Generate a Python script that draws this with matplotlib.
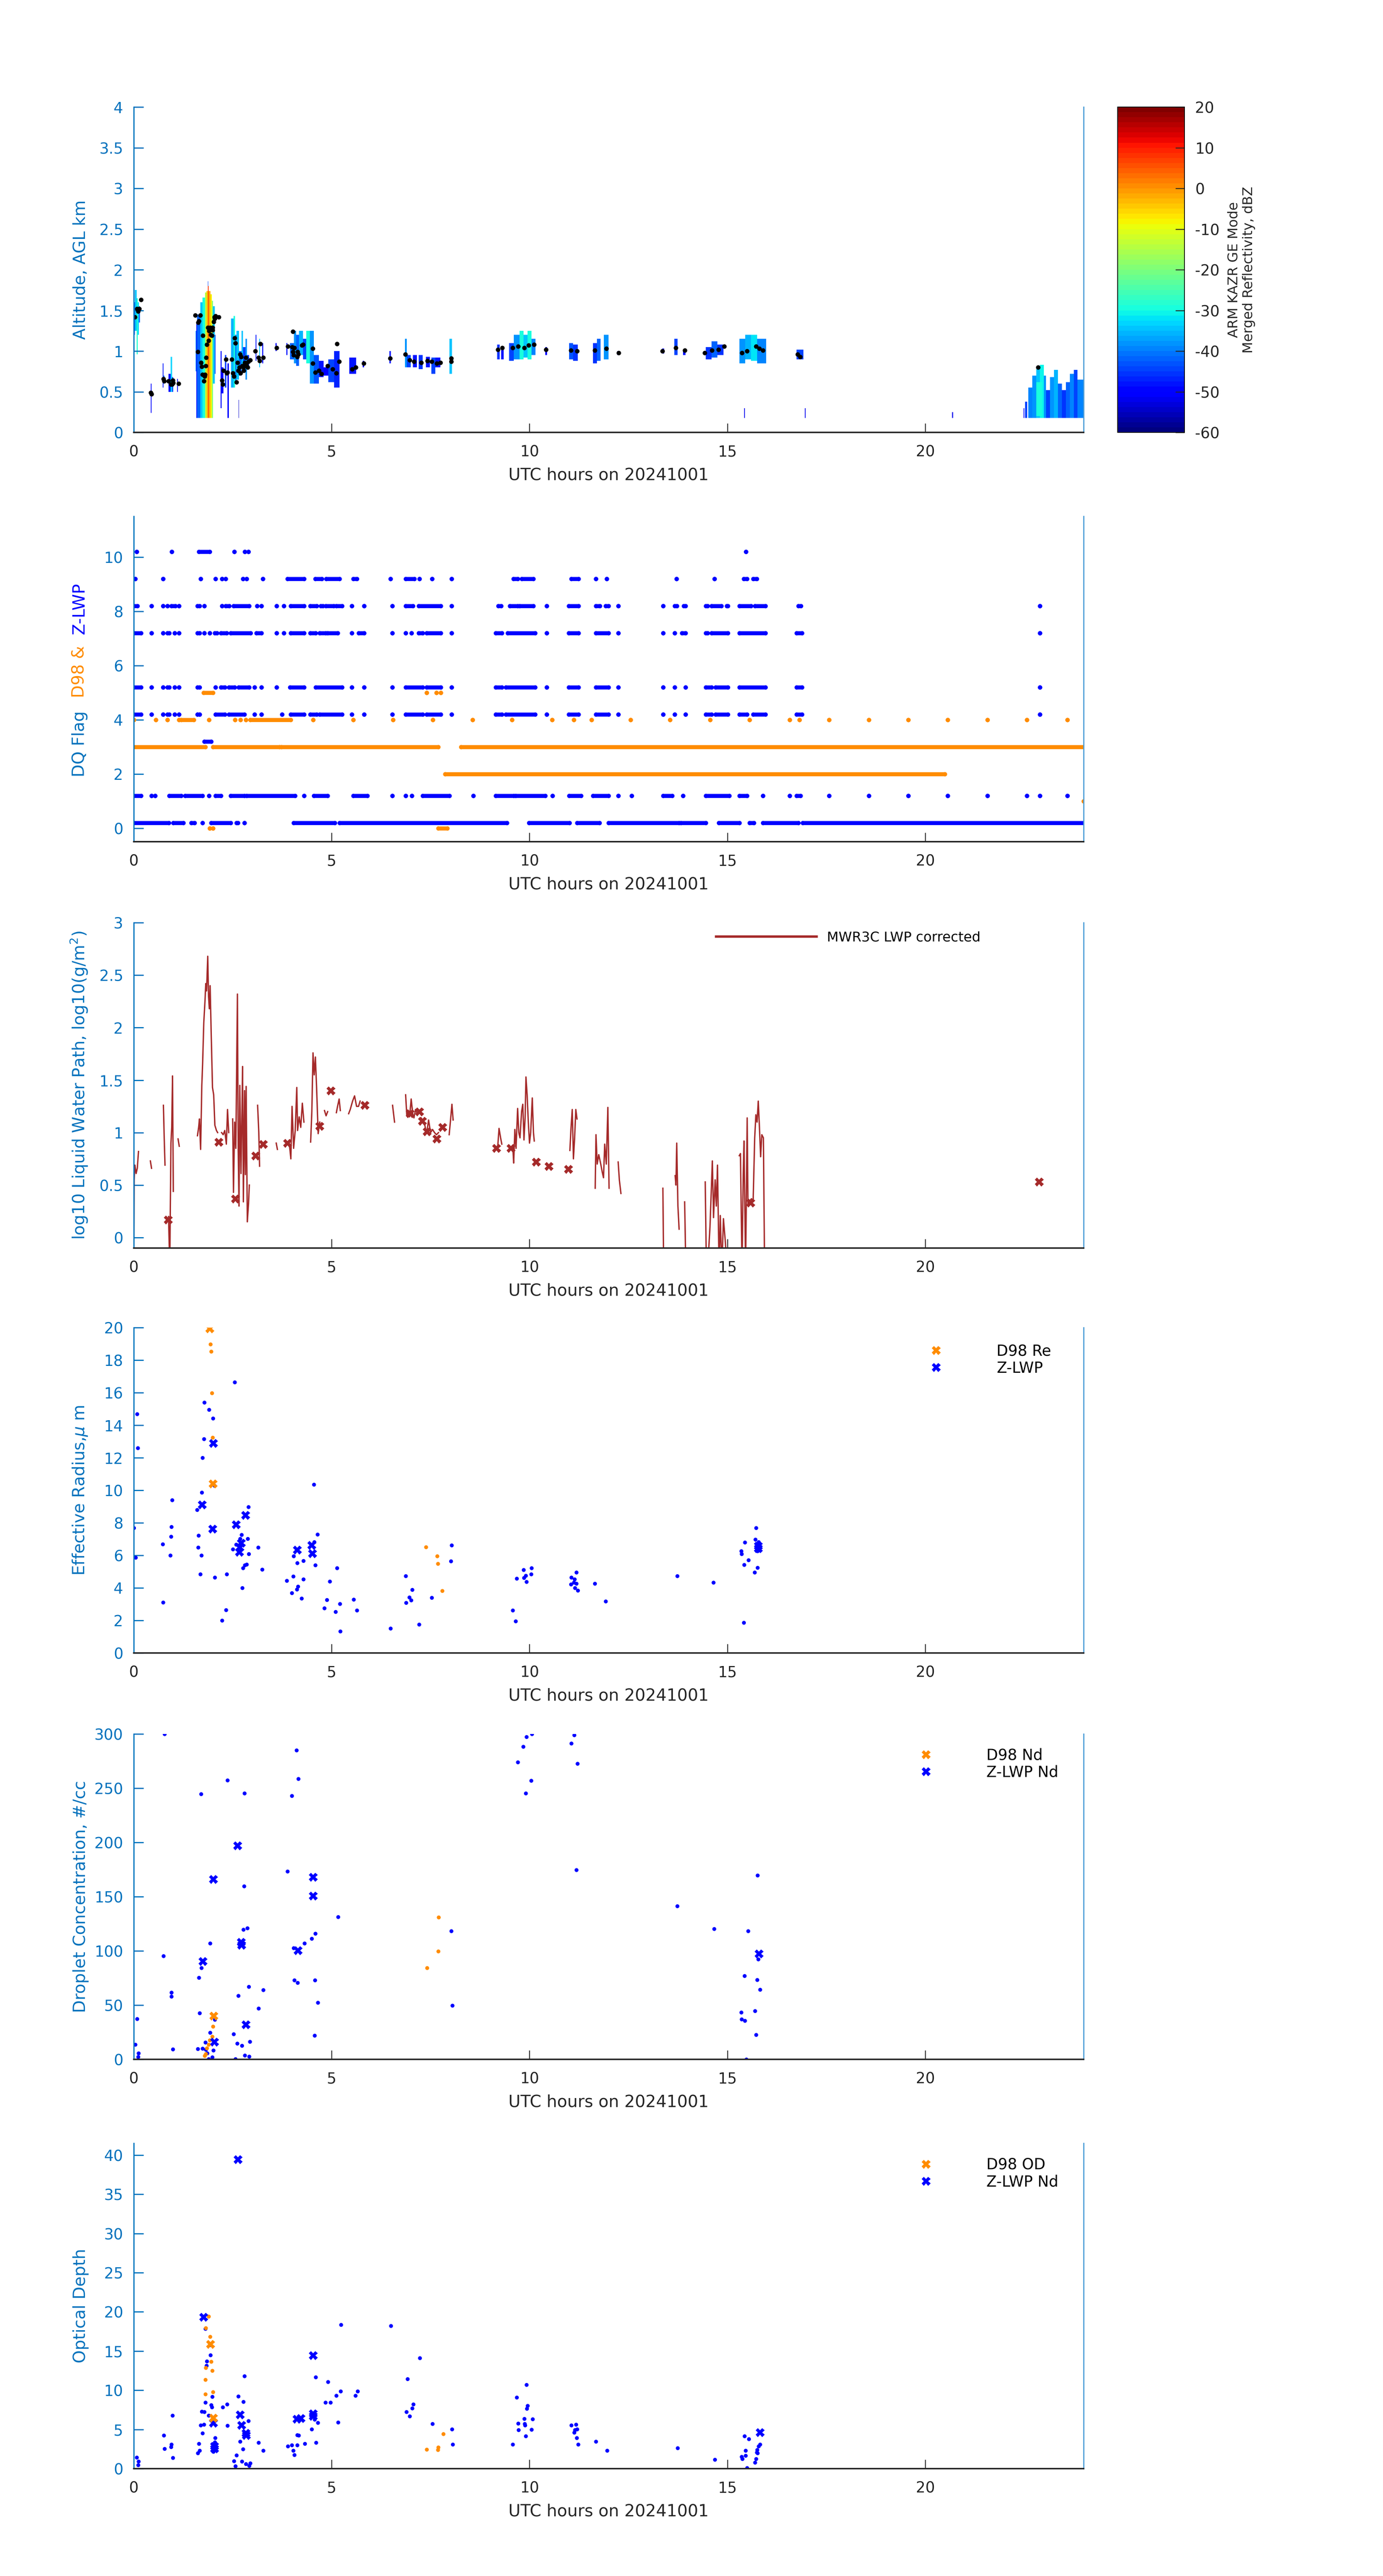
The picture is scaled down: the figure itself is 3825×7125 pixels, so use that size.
import matplotlib
matplotlib.use('Agg')
import matplotlib.pyplot as plt
import numpy as np
from matplotlib.lines import Line2D
from matplotlib.ticker import FuncFormatter
from matplotlib.colors import Normalize
from matplotlib.cm import ScalarMappable

plt.rcParams['font.family'] = ['DejaVu Sans']
plt.rcParams['axes.unicode_minus'] = False

nan = np.nan
MBLUE = '#0072BD'
LBLUE = '#4f9fd8'
ORANGE = '#FF8C00'
BLUE = '#0000FF'
BROWN = '#A52A2A'
DARK = '#262626'

# ---------------- panel 1: KAZR reflectivity (t0, t1, z_bottom, z_top, dBZ)
refl_boxes = [
    (0.00, 0.03, 1.20, 1.60, -45), (0.03, 0.07, 1.25, 1.75, -35), (0.07, 0.10, 0.96, 1.65, -28),
    (0.10, 0.13, 1.20, 1.60, -33), (0.13, 0.16, 1.35, 1.55, -42), (0.43, 0.45, 0.24, 0.60, -50),
    (0.73, 0.75, 0.55, 0.85, -48), (0.75, 0.78, 0.60, 0.70, -40), (0.88, 0.93, 0.50, 0.72, -48),
    (0.93, 0.97, 0.50, 0.93, -33), (0.97, 1.00, 0.50, 0.68, -45), (1.10, 1.12, 0.50, 0.66, -50),
    (1.56, 1.58, 0.75, 1.25, -40), (1.58, 1.60, 0.18, 1.35, -48), (1.60, 1.68, 0.18, 1.45, -42),
    (1.68, 1.74, 0.18, 1.60, -35), (1.74, 1.80, 0.18, 1.66, -30), (1.80, 1.84, 0.18, 1.72, -14),
    (1.84, 1.87, 0.18, 1.74, -4), (1.87, 1.89, 0.18, 1.80, 8), (1.87, 1.88, 1.80, 1.86, -45),
    (1.89, 1.94, 0.18, 1.74, -2), (1.94, 1.97, 0.18, 1.70, -8), (1.97, 2.00, 0.18, 1.62, -20),
    (2.00, 2.05, 0.60, 1.55, -35), (2.05, 2.07, 0.72, 1.20, -45),
    (2.19, 2.22, 0.30, 1.00, -48), (2.22, 2.27, 0.48, 0.80, -50), (2.30, 2.34, 0.55, 0.95, -45),
    (2.37, 2.40, 0.18, 0.85, -50), (2.46, 2.52, 0.55, 1.40, -36), (2.52, 2.56, 0.55, 1.43, -30),
    (2.56, 2.60, 0.60, 1.20, -40), (2.60, 2.66, 0.65, 1.25, -34), (2.66, 2.72, 0.70, 1.00, -42),
    (2.72, 2.76, 0.80, 1.25, -35), (2.76, 2.82, 0.78, 1.05, -45), (2.82, 2.86, 0.65, 1.15, -38),
    (2.86, 2.92, 0.80, 0.95, -45), (2.65, 2.66, 0.18, 0.40, -55), (3.08, 3.10, 0.88, 1.20, -48),
    (3.17, 3.19, 0.80, 1.15, -35), (3.24, 3.27, 0.85, 1.10, -48), (3.58, 3.61, 1.00, 1.10, -50),
    (3.86, 3.88, 0.95, 1.10, -48), (3.95, 4.05, 0.90, 1.10, -42), (4.05, 4.10, 0.85, 1.25, -38),
    (4.10, 4.18, 0.82, 1.20, -42), (4.18, 4.28, 0.95, 1.25, -36), (4.28, 4.36, 0.90, 1.15, -44),
    (4.36, 4.45, 0.85, 1.25, -30), (4.45, 4.55, 0.60, 1.25, -38), (4.55, 4.68, 0.60, 0.95, -43),
    (4.68, 4.80, 0.68, 0.88, -48), (4.80, 4.92, 0.70, 0.80, -50), (4.92, 5.06, 0.62, 0.90, -45),
    (5.06, 5.20, 0.55, 1.00, -47), (5.45, 5.62, 0.72, 0.92, -48), (5.78, 5.82, 0.80, 0.88, -50),
    (6.46, 6.50, 0.85, 1.00, -48), (6.85, 6.90, 0.80, 1.15, -38), (6.90, 7.00, 0.80, 0.95, -45),
    (7.05, 7.15, 0.80, 0.95, -48), (7.20, 7.30, 0.78, 0.95, -46), (7.38, 7.48, 0.80, 0.93, -48),
    (7.52, 7.62, 0.72, 0.92, -45), (7.62, 7.75, 0.80, 0.92, -48), (7.98, 8.04, 0.72, 1.15, -35),
    (9.18, 9.25, 0.90, 1.08, -46), (9.28, 9.35, 0.90, 1.05, -48), (9.48, 9.60, 0.88, 1.10, -45),
    (9.60, 9.75, 0.90, 1.20, -38), (9.75, 9.85, 0.90, 1.25, -30), (9.85, 9.95, 0.92, 1.20, -35),
    (9.95, 10.05, 0.90, 1.25, -30), (10.05, 10.15, 0.95, 1.15, -40), (10.40, 10.44, 0.95, 1.05, -50),
    (11.00, 11.10, 0.90, 1.10, -43), (11.10, 11.22, 0.88, 1.08, -46), (11.60, 11.70, 0.85, 1.10, -46),
    (11.70, 11.80, 0.88, 1.15, -42), (11.88, 12.00, 0.90, 1.20, -38), (12.22, 12.28, 0.95, 1.00, -50),
    (13.35, 13.40, 0.97, 1.03, -50), (13.66, 13.74, 0.95, 1.15, -45), (13.88, 13.94, 0.95, 1.02, -48),
    (14.45, 14.60, 0.90, 1.05, -46), (14.60, 14.75, 0.92, 1.12, -42), (14.75, 14.90, 0.95, 1.08, -46),
    (15.30, 15.45, 0.85, 1.15, -38), (15.45, 15.60, 0.90, 1.20, -36), (15.60, 15.75, 0.88, 1.20, -32),
    (15.75, 15.98, 0.85, 1.15, -40), (15.42, 15.44, 0.18, 0.30, -52), (16.75, 16.92, 0.90, 1.02, -45),
    (16.96, 16.98, 0.18, 0.30, -52), (20.68, 20.70, 0.18, 0.25, -52),
    (22.48, 22.50, 0.18, 0.30, -50), (22.52, 22.58, 0.18, 0.38, -45), (22.60, 22.70, 0.18, 0.55, -40),
    (22.70, 22.80, 0.18, 0.70, -38), (22.80, 22.90, 0.18, 0.78, -35), (22.90, 23.00, 0.18, 0.83, -31),
    (23.00, 23.05, 0.18, 0.70, -38), (23.05, 23.15, 0.18, 0.52, -45), (23.15, 23.25, 0.18, 0.68, -38),
    (23.25, 23.35, 0.18, 0.77, -36), (23.35, 23.45, 0.18, 0.60, -42), (23.45, 23.55, 0.18, 0.52, -46),
    (23.55, 23.65, 0.18, 0.62, -42), (23.65, 23.75, 0.18, 0.72, -40), (23.75, 23.85, 0.18, 0.77, -44),
    (23.85, 24.00, 0.18, 0.65, -40), (22.80, 22.95, 0.20, 0.62, -30),
]

# cloud base points (t, km)
cloud_base = [
    (0.03, 1.42), (0.08, 1.52), (0.11, 1.49), (0.14, 1.52), (0.18, 1.63), (0.43, 0.49), (0.45, 0.47),
    (0.75, 0.66), (0.77, 0.63), (0.88, 0.63), (0.94, 0.59), (0.97, 0.59), (0.99, 0.64), (1.0, 0.61),
    (1.13, 0.6), (1.55, 1.44), (1.68, 1.44), (1.65, 1.37), (1.63, 1.35), (1.75, 1.19), (1.62, 0.99),
    (1.7, 0.86), (1.72, 0.81), (1.82, 0.82), (1.83, 0.92), (1.74, 0.71), (1.8, 0.71), (1.79, 0.69),
    (1.77, 0.63), (1.85, 1.08), (1.89, 1.13), (1.87, 1.29), (1.93, 1.29), (1.9, 1.25), (1.99, 1.29),
    (1.99, 1.26), (1.95, 1.2), (1.97, 1.19), (2.02, 1.36), (2.04, 1.42), (2.07, 1.43), (2.05, 1.4),
    (2.15, 1.42), (2.27, 0.76), (2.23, 0.64), (2.25, 0.59), (2.33, 0.9), (2.35, 0.73), (2.37, 0.74),
    (2.48, 0.9), (2.5, 0.73), (2.53, 0.69), (2.55, 1.16), (2.57, 1.1), (2.6, 0.62), (2.62, 0.86),
    (2.64, 0.76), (2.67, 0.8), (2.69, 0.96), (2.7, 0.73), (2.71, 0.93), (2.74, 0.82), (2.77, 0.8),
    (2.78, 0.76), (2.81, 0.86), (2.83, 0.92), (2.84, 0.83), (2.88, 0.8), (2.9, 0.87), (2.94, 0.89),
    (3.07, 1.0), (3.15, 0.92), (3.18, 0.88), (3.2, 1.09), (3.27, 0.92), (3.61, 1.04), (3.89, 1.06),
    (4.02, 1.24), (4.0, 1.05), (4.06, 1.04), (4.02, 0.99), (4.04, 0.95), (4.14, 0.99), (4.13, 0.93),
    (4.16, 0.96), (4.25, 1.07), (4.28, 1.08), (4.52, 1.03), (4.52, 0.85), (4.59, 0.74), (4.68, 0.76),
    (4.74, 0.72), (4.9, 0.82), (5.03, 0.78), (5.12, 0.73), (5.19, 0.87), (5.14, 1.09), (5.52, 0.78),
    (5.61, 0.8), (5.81, 0.85), (6.48, 0.91), (6.86, 0.96), (6.97, 0.89), (7.08, 0.87), (7.26, 0.86),
    (7.42, 0.88), (7.53, 0.87), (7.66, 0.85), (7.75, 0.86), (8.02, 0.87), (8.02, 0.91), (9.2, 1.02),
    (9.31, 1.04), (9.58, 1.04), (9.71, 1.06), (9.87, 1.04), (9.98, 1.07), (10.11, 1.08), (10.42, 1.02),
    (11.05, 1.01), (11.2, 1.0), (11.65, 1.01), (11.94, 1.03), (12.25, 0.98), (13.36, 1.0), (13.7, 1.04),
    (13.92, 1.01), (14.43, 0.98), (14.61, 1.01), (14.77, 1.02), (14.92, 1.06), (15.37, 0.98),
    (15.5, 1.0), (15.72, 1.06), (15.81, 1.03), (15.9, 1.01), (16.77, 0.96), (16.84, 0.93), (22.85, 0.8),
]

# ---------------- panel 2: DQ flags, runs of (t_start, t_end)
d98_f0 = [(1.92, 1.92), (2.0, 2.0), (7.69, 7.92)]
d98_f1 = [(24.0, 24.0)]
d98_f2 = [(7.87, 20.49)]
d98_f3 = [(0, 1.81), (2.0, 3.68), (3.73, 7.69), (8.27, 24.0)]
d98_f4 = [(0, 0), (0.56, 0.56), (0.85, 0.85), (1.14, 1.14), (1.2, 1.52), (1.9, 1.9), (2.56, 2.56),
          (2.7, 2.7), (2.83, 2.83), (2.94, 3.97), (4.53, 4.53), (5.55, 5.55), (6.55, 6.55), (7.56, 7.56),
          (8.56, 8.56), (9.56, 9.56), (10.57, 10.57), (11.12, 11.12), (11.57, 11.57), (12.55, 12.55),
          (13.55, 13.55), (14.56, 14.56), (15.56, 15.56), (16.57, 16.57), (16.82, 16.82), (17.57, 17.57),
          (18.57, 18.57), (19.57, 19.57), (20.57, 20.57), (21.57, 21.57), (22.57, 22.57), (23.59, 23.59)]
d98_f5 = [(1.76, 2.0), (7.4, 7.4), (7.65, 7.65), (7.76, 7.76)]

zlwp_f0 = [(0, 0.89), (1.0, 1.25), (1.45, 1.54), (1.74, 1.74), (1.96, 2.45), (2.6, 2.63), (2.8, 2.8),
           (4.04, 5.08), (5.2, 9.43), (9.99, 11.01), (11.2, 11.77), (12.0, 13.78), (13.82, 14.45),
           (14.78, 15.3), (15.56, 15.67), (15.9, 16.79), (16.9, 24.0)]
zlwp_f1 = [(0, 0.18), (0.45, 0.45), (0.54, 0.54), (0.9, 1.2), (1.3, 1.74), (1.9, 1.9), (2.07, 2.2),
           (2.45, 2.8), (2.85, 4.08), (4.3, 4.3), (4.55, 4.9), (5.55, 5.9), (6.53, 6.53), (6.87, 6.87),
           (7.03, 7.03), (7.3, 7.98), (8.58, 8.58), (9.15, 9.6), (9.65, 10.4), (10.58, 10.58), (11.0, 11.3),
           (11.6, 12.0), (12.24, 12.24), (12.58, 12.58), (13.38, 13.6), (13.88, 13.88), (14.45, 15.05),
           (15.3, 15.5), (15.9, 15.9), (16.57, 16.57), (16.75, 16.85), (17.57, 17.57), (18.57, 18.57),
           (19.57, 19.57), (20.57, 20.57), (21.57, 21.57), (22.57, 22.57), (22.9, 22.9), (23.59, 23.59)]
zlwp_f3 = [(1.78, 1.96)]
zlwp_f4 = [(0, 0.18), (0.45, 0.45), (0.74, 0.74), (0.85, 0.9), (1.03, 1.03), (1.14, 1.14), (1.61, 1.61),
           (1.66, 1.66), (2.07, 2.3), (2.4, 2.8), (3.05, 3.05), (3.23, 3.23), (3.75, 3.75), (3.97, 4.3),
           (4.46, 4.62), (4.7, 5.26), (5.51, 5.51), (5.82, 5.82), (6.53, 6.53), (6.87, 7.3), (7.4, 7.76),
           (8.03, 8.03), (9.15, 9.3), (9.4, 10.14), (10.43, 10.43), (10.99, 11.24), (11.68, 12.0),
           (12.24, 12.24), (13.38, 13.38), (13.67, 13.67), (13.94, 13.94), (14.45, 14.6), (14.7, 15.01),
           (15.3, 15.5), (15.65, 15.96), (16.75, 16.88), (22.9, 22.9)]
zlwp_f5 = [(0, 0.18), (0.45, 0.45), (0.74, 0.74), (0.85, 0.9), (1.03, 1.03), (1.14, 1.14), (1.61, 1.66),
           (2.07, 2.07), (2.2, 2.3), (2.4, 2.55), (2.65, 2.92), (3.05, 3.05), (3.23, 3.23), (3.61, 3.61),
           (3.95, 4.3), (4.6, 5.26), (5.51, 5.51), (5.82, 5.82), (6.53, 6.53), (6.87, 7.3), (7.4, 7.76),
           (8.03, 8.03), (9.15, 9.3), (9.4, 10.14), (10.43, 10.43), (10.99, 11.24), (11.68, 12.0),
           (12.24, 12.24), (13.38, 13.38), (13.67, 13.67), (13.94, 13.94), (14.45, 14.6), (14.7, 15.01),
           (15.3, 15.96), (16.75, 16.88), (22.9, 22.9)]
zlwp_f7 = [(0, 0.18), (0.45, 0.45), (0.74, 0.74), (0.85, 0.9), (1.03, 1.03), (1.14, 1.14), (1.61, 1.66),
           (1.78, 1.78), (1.92, 1.92), (2.05, 2.1), (2.2, 2.35), (2.45, 2.95), (3.1, 3.23), (3.61, 3.61),
           (3.79, 3.79), (3.97, 4.3), (4.46, 4.6), (4.7, 4.85), (4.9, 5.15), (5.51, 5.51), (5.68, 5.82),
           (6.53, 6.53), (6.87, 6.87), (7.02, 7.02), (7.2, 7.3), (7.4, 7.76), (8.03, 8.03), (9.15, 9.3),
           (9.45, 10.14), (10.43, 10.43), (10.99, 11.24), (11.68, 12.0), (12.24, 12.24), (13.38, 13.38),
           (13.67, 13.67), (13.85, 13.94), (14.45, 14.5), (14.6, 15.01), (15.3, 15.96), (16.75, 16.88),
           (22.9, 22.9)]
zlwp_f8 = [(0, 0.09), (0.45, 0.45), (0.74, 0.74), (0.85, 0.85), (0.95, 1.05), (1.14, 1.14), (1.61, 1.66),
           (1.78, 1.78), (2.23, 2.23), (2.32, 2.41), (2.52, 2.92), (3.12, 3.12), (3.23, 3.23), (3.61, 3.61),
           (3.79, 3.79), (3.97, 4.3), (4.46, 4.62), (4.72, 4.78), (4.85, 5.05), (5.12, 5.26), (5.51, 5.51),
           (5.82, 5.82), (6.53, 6.53), (6.87, 7.05), (7.2, 7.76), (8.03, 8.03), (9.21, 9.28), (9.5, 9.7),
           (9.75, 10.1), (10.43, 10.43), (10.99, 11.24), (11.68, 11.78), (11.92, 12.0), (12.24, 12.24),
           (13.38, 13.38), (13.67, 13.72), (13.9, 13.94), (14.45, 14.5), (14.6, 14.85), (14.98, 15.01),
           (15.3, 15.6), (15.7, 15.96), (16.79, 16.86), (22.9, 22.9)]
zlwp_f9 = [(0.04, 0.04), (0.74, 0.74), (1.69, 1.69), (2.07, 2.07), (2.23, 2.23), (2.32, 2.32), (2.76, 2.76),
           (2.85, 2.85), (3.26, 3.26), (3.88, 4.3), (4.59, 4.75), (4.86, 5.2), (5.55, 5.64), (6.49, 6.49),
           (6.87, 7.09), (7.22, 7.22), (7.54, 7.54), (8.03, 8.03), (9.59, 9.7), (9.8, 10.1), (11.06, 11.24),
           (11.68, 11.68), (11.95, 11.95), (13.71, 13.71), (14.67, 14.67), (15.41, 15.5), (15.65, 15.74)]
zlwp_f10 = [(0.07, 0.07), (0.96, 0.96), (1.65, 1.92), (2.54, 2.54), (2.81, 2.81), (2.9, 2.9), (15.47, 15.47)]

# ---------------- panel 3: MWR3C LWP (log10 g/m2), segments separated by gaps
lwp_seg_t = [
    [0.0, 0.01, 0.03, 0.06, 0.09, 0.12], [0.42, 0.45], [0.75, 0.77, 0.79],
    [0.88, 0.91, 0.94, 0.96, 0.98, 1.0], [1.12, 1.15],
    [1.61, 1.64, 1.66, 1.69, 1.72, 1.74, 1.77, 1.8, 1.82, 1.84, 1.87, 1.89, 1.91, 1.93, 1.96, 1.99, 2.02, 2.05, 2.09, 2.12],
    [2.22, 2.26, 2.3, 2.34, 2.37, 2.4],
    [2.5, 2.52, 2.55, 2.58, 2.62, 2.64, 2.66, 2.68, 2.71, 2.73, 2.75, 2.77, 2.8, 2.82, 2.84, 2.87, 2.9, 2.92],
    [3.13, 3.16, 3.18], [3.6, 3.63],
    [3.93, 3.97, 4.0, 4.04, 4.08, 4.12, 4.14, 4.18, 4.22, 4.26, 4.3],
    [4.47, 4.5, 4.53, 4.56, 4.59, 4.62, 4.66, 4.7], [4.82, 4.86, 4.9], [5.12, 5.15, 5.19, 5.22],
    [5.43, 5.47, 5.53, 5.58, 5.63, 5.68, 5.72], [6.54, 6.59],
    [6.87, 6.9, 6.93, 6.97, 7.01, 7.05, 7.08, 7.12, 7.16, 7.2],
    [7.26, 7.3, 7.35, 7.4, 7.45, 7.5, 7.55, 7.6, 7.65, 7.7], [7.97, 8.0, 8.04, 8.07], [9.2, 9.23, 9.27, 9.3],
    [9.58, 9.6, 9.63, 9.66, 9.7, 9.73, 9.76, 9.8, 9.83, 9.86, 9.89, 9.91, 9.94, 9.97, 10.0, 10.03, 10.07, 10.1, 10.12],
    [11.02, 11.05, 11.08, 11.11, 11.14, 11.17, 11.2],
    [11.66, 11.68, 11.71, 11.75, 11.8, 11.84, 11.87, 11.9, 11.94, 11.98, 12.01],
    [12.24, 12.27, 12.31], [13.37, 13.39], [13.68, 13.7, 13.72, 13.75, 13.78], [13.92, 13.95],
    [14.44, 14.47, 14.5, 14.56, 14.62, 14.65, 14.69, 14.72, 14.75, 14.79, 14.82, 14.86, 14.9, 14.95, 14.99],
    [15.3, 15.33, 15.37, 15.4, 15.42, 15.46, 15.5, 15.52, 15.56, 15.61, 15.65, 15.69, 15.72, 15.75, 15.78, 15.81, 15.84, 15.87, 15.91, 15.94],
]
lwp_seg_v = [
    [-0.3, 0.55, 0.69, 0.61, 0.66, 0.82], [0.73, 0.66], [1.26, 0.95, 0.69],
    [0.2, -0.3, 0.9, 1.05, 1.54, 0.44], [0.94, 0.87],
    [0.97, 1.05, 1.13, 0.84, 1.45, 1.65, 2.05, 2.25, 2.42, 2.35, 2.68, 2.3, 2.18, 2.4, 1.9, 1.43, 1.36, 1.07, 1.02, 1.0],
    [1.0, 0.98, 1.02, 0.89, 1.22, 1.0],
    [1.13, 0.43, 1.1, 0.85, 2.32, 0.83, 0.3, 1.45, 0.61, 1.1, 1.63, 0.34, 1.4, 0.6, 1.44, 0.15, 0.32, 0.5],
    [1.26, 1.0, 0.68], [0.9, 0.84],
    [0.9, 0.75, 1.25, 0.85, 1.02, 1.43, 1.02, 1.15, 1.05, 1.28, 1.1],
    [0.91, 1.2, 1.76, 1.55, 1.72, 1.43, 0.99, 1.1], [1.21, 1.16, 1.2], [1.19, 1.25, 1.32, 1.21],
    [1.18, 1.22, 1.3, 1.35, 1.25, 1.25, 1.3], [1.26, 1.1],
    [1.36, 1.16, 1.2, 1.15, 1.32, 1.18, 1.14, 1.22, 1.18, 1.2],
    [1.14, 1.12, 1.08, 0.99, 1.12, 1.0, 1.03, 1.0, 0.98, 1.0], [0.98, 1.1, 1.27, 1.12], [0.88, 1.04, 0.95, 0.89],
    [0.85, 0.71, 1.03, 0.85, 1.23, 1.0, 0.95, 1.2, 1.27, 0.93, 1.15, 1.53, 1.36, 1.1, 0.9, 1.0, 1.33, 1.0, 0.92],
    [0.83, 1.05, 1.22, 0.75, 0.95, 1.22, 1.13],
    [0.47, 0.98, 0.7, 0.79, 0.7, 0.62, 0.57, 0.89, 0.7, 1.24, 0.47],
    [0.72, 0.55, 0.42], [0.47, -0.3], [0.59, 0.5, 0.9, 0.3, 0.08], [0.34, -0.3],
    [0.53, -0.3, -0.3, 0.1, 0.73, 0.19, 0.55, 0.3, 0.69, -0.3, 0.21, -0.3, 0.18, -0.05, -0.3],
    [0.78, 0.8, -0.3, 0.6, 0.92, -0.3, 1.14, 0.32, 0.35, 0.37, 0.34, 0.95, 1.17, 1.1, 1.3, 1.05, 0.77, 0.98, 0.95, -0.3],
]
lwp_marks = [(0.87, 0.17), (2.15, 0.91), (2.57, 0.37), (3.08, 0.78), (3.27, 0.89), (3.88, 0.9), (4.7, 1.06),
             (4.98, 1.4), (5.84, 1.26), (6.98, 1.18), (7.22, 1.2), (7.29, 1.11), (7.41, 1.01), (7.66, 0.94),
             (7.8, 1.05), (9.16, 0.85), (9.53, 0.85), (10.17, 0.72), (10.49, 0.68), (10.98, 0.65),
             (15.59, 0.33), (22.88, 0.53)]

# ---------------- panel 4: effective radius (um)
re_zlwp = [(0.0, 7.7), (0.05, 5.87), (0.08, 14.7), (0.1, 12.6), (0.73, 6.7), (0.74, 3.1), (0.92, 6.0),
           (0.94, 7.16), (0.95, 7.76), (0.97, 9.4), (1.6, 8.8), (1.63, 6.48), (1.64, 7.23), (1.68, 4.84),
           (1.71, 6.0), (1.72, 9.86), (1.74, 12.0), (1.77, 13.15), (1.78, 15.4), (1.9, 14.96), (2.0, 14.43),
           (2.04, 10.3), (2.05, 4.65), (2.23, 2.0), (2.33, 2.65), (2.35, 4.84), (2.5, 6.38), (2.55, 16.64),
           (2.59, 6.66), (2.69, 7.02), (2.72, 7.26), (2.74, 4.0), (2.76, 5.22), (2.81, 5.4), (2.85, 5.44),
           (2.88, 7.02), (2.9, 8.98), (2.91, 6.08), (3.14, 6.5), (3.24, 5.14), (3.87, 4.44), (3.99, 3.69),
           (4.03, 4.7), (4.04, 5.95), (4.12, 3.91), (4.13, 5.54), (4.15, 4.09), (4.24, 3.36), (4.29, 5.67),
           (4.29, 4.53), (4.55, 10.36), (4.56, 6.83), (4.59, 5.41), (4.64, 7.3), (4.82, 2.75), (4.88, 3.27),
           (4.95, 4.41), (5.1, 2.53), (5.14, 5.22), (5.21, 3.03), (5.22, 1.34), (5.56, 3.29), (5.64, 2.63),
           (6.49, 1.51), (6.87, 4.73), (6.88, 3.09), (6.96, 3.43), (7.01, 3.25), (7.04, 3.89), (7.21, 1.75),
           (7.53, 3.4), (8.01, 5.65), (8.03, 6.62), (9.58, 2.62), (9.65, 1.95), (9.68, 4.58), (9.85, 5.12),
           (9.86, 4.63), (9.9, 4.75), (9.92, 4.37), (10.04, 4.84), (10.05, 5.22), (11.05, 4.23), (11.06, 4.65),
           (11.12, 4.34), (11.14, 4.54), (11.15, 3.99), (11.18, 4.27), (11.18, 4.95), (11.22, 3.84),
           (11.65, 4.27), (11.92, 3.17), (13.73, 4.73), (14.65, 4.33), (15.35, 6.26), (15.36, 6.08),
           (15.41, 1.86), (15.42, 5.42), (15.44, 6.79), (15.53, 5.72), (15.69, 4.95), (15.71, 6.97),
           (15.72, 7.7), (15.76, 5.24), (15.76, 6.26), (15.79, 6.83)]
re_zlwp_mean = [(1.73, 9.11), (1.99, 7.62), (2.01, 12.9), (2.59, 7.9), (2.67, 6.19), (2.68, 6.49), (2.71, 6.76),
                (2.82, 8.47), (4.13, 6.33), (4.5, 6.62), (4.51, 6.12), (15.78, 6.58), (15.78, 6.43)]
re_d98 = [(1.94, 18.99), (1.96, 18.53), (1.97, 15.99), (1.99, 13.24), (7.38, 6.51), (7.67, 5.95), (7.68, 5.49),
          (7.79, 3.83)]
re_d98_mean = [(1.92, 19.93), (2.0, 10.39)]

# ---------------- panel 5: droplet concentration (#/cc)
nd_zlwp = [(0.04, 13.8), (0.08, 37.3), (0.11, 2.5), (0.12, 5.6), (0.75, 95.3), (0.78, 300), (0.95, 61.8),
           (0.95, 58.0), (0.99, 9.4), (1.62, 9.8), (1.65, 75.4), (1.66, 42.6), (1.7, 244.6), (1.71, 84.4),
           (1.74, 10.0), (1.81, 15.6), (1.82, 8.9), (1.86, 5.6), (1.89, 0.5), (1.93, 24.8), (1.93, 106.9),
           (1.98, 2.0), (2.01, 8.3), (2.05, 36.8), (2.37, 257.4), (2.52, 23.4), (2.57, 0.4), (2.61, 14.7),
           (2.64, 58.7), (2.73, 12.7), (2.77, 119.6), (2.79, 159.8), (2.8, 245.5), (2.81, 3.8), (2.87, 121.0),
           (2.91, 67.0), (2.92, 2.7), (2.93, 16.3), (3.15, 46.9), (3.27, 64.1), (3.88, 173.4), (3.99, 243.1),
           (4.04, 102.7), (4.06, 73.0), (4.11, 285.0), (4.14, 70.8), (4.16, 258.7), (4.31, 107.1), (4.5, 111.2),
           (4.57, 22.1), (4.58, 73.0), (4.59, 116.1), (4.65, 52.5), (5.16, 131.5), (8.02, 118.3), (8.05, 49.8),
           (9.7, 273.9), (9.84, 288.4), (9.9, 245.5), (9.92, 297.5), (10.04, 256.9), (10.06, 300),
           (11.06, 291.3), (11.13, 298.9), (11.18, 174.8), (11.21, 272.8), (13.73, 141.5), (14.66, 120.3),
           (15.35, 43.3), (15.36, 37.1), (15.43, 77.0), (15.44, 35.7), (15.48, 0.0), (15.52, 118.3),
           (15.7, 44.6), (15.72, 22.8), (15.75, 73.2), (15.76, 169.6), (15.78, 92.2), (15.82, 64.5)]
nd_zlwp_mean = [(1.75, 90.2), (2.01, 166.1), (2.04, 16.1), (2.62, 196.9), (2.71, 108.0), (2.72, 105.4),
                (2.83, 32.1), (4.15, 100.4), (4.53, 167.9), (4.53, 150.7), (15.8, 97.5)]
nd_d98 = [(1.79, 3.3), (1.82, 4.9), (1.85, 10.5), (1.89, 13.8), (1.92, 17.6), (1.98, 21.0), (2.0, 30.4),
          (7.41, 84.2), (7.69, 99.8), (7.7, 131.0)]
nd_d98_mean = [(2.02, 40.0)]

# ---------------- panel 6: optical depth
od_zlwp = [(0.07, 1.45), (0.11, 0.46), (0.12, 0.92), (0.76, 4.25), (0.78, 2.56), (0.94, 2.77), (0.95, 3.08),
           (0.98, 6.78), (0.99, 1.39), (1.62, 2.0), (1.65, 3.17), (1.66, 2.31), (1.69, 5.55), (1.72, 7.27),
           (1.74, 4.53), (1.77, 5.64), (1.78, 7.24), (1.81, 8.44), (1.81, 17.87), (1.84, 13.16), (1.85, 13.71),
           (1.89, 6.78), (1.92, 15.78), (1.94, 14.48), (1.96, 8.14), (1.97, 7.86), (1.98, 9.18), (2.01, 2.16),
           (2.05, 3.39), (2.06, 3.91), (2.25, 7.86), (2.36, 8.2), (2.37, 5.49), (2.53, 0.99), (2.57, 0.31),
           (2.6, 1.69), (2.64, 9.24), (2.69, 3.45), (2.73, 0.92), (2.76, 2.47), (2.77, 8.54), (2.8, 11.8),
           (2.83, 0.62), (2.87, 4.16), (2.9, 6.1), (2.92, 0.37), (2.94, 0.71), (3.15, 3.3), (3.27, 2.31),
           (3.89, 2.84), (3.99, 2.99), (4.03, 2.31), (4.06, 1.76), (4.13, 4.31), (4.13, 2.99), (4.17, 4.25),
           (4.32, 3.2), (4.5, 5.02), (4.57, 6.26), (4.6, 11.65), (4.61, 3.33), (4.65, 5.86), (4.84, 8.44),
           (4.91, 11.09), (4.97, 8.44), (5.12, 9.31), (5.16, 5.92), (5.23, 9.86), (5.24, 18.34), (5.6, 9.34),
           (5.66, 9.86), (6.5, 18.21), (6.89, 7.24), (6.92, 11.46), (6.97, 6.69), (7.04, 7.7), (7.06, 8.23),
           (7.23, 14.11), (7.55, 5.7), (8.04, 5.02), (8.06, 3.08), (9.58, 3.08), (9.68, 9.09), (9.71, 5.76),
           (9.72, 4.93), (9.87, 6.38), (9.88, 5.7), (9.89, 5.55), (9.9, 4.16), (9.92, 10.69), (9.93, 7.64),
           (9.95, 8.01), (10.05, 4.99), (10.08, 6.32), (11.06, 5.55), (11.13, 4.62), (11.15, 4.93),
           (11.17, 5.61), (11.19, 3.91), (11.2, 5.02), (11.23, 3.08), (11.68, 3.48), (11.96, 2.31),
           (13.74, 2.62), (14.68, 1.17), (15.36, 1.54), (15.38, 1.23), (15.43, 4.13), (15.46, 2.31),
           (15.46, 1.66), (15.5, 0.09), (15.54, 3.79), (15.7, 0.77), (15.72, 1.23), (15.74, 2.06),
           (15.75, 2.4), (15.76, 2.0), (15.79, 2.87), (15.82, 3.08)]
od_zlwp_mean = [(1.76, 19.32), (2.01, 5.79), (2.04, 2.84), (2.04, 2.53), (2.63, 39.45), (2.69, 6.87),
                (2.72, 5.55), (2.83, 4.53), (2.84, 4.25), (4.12, 6.3), (4.22, 6.4), (4.53, 14.42), (4.53, 7.0),
                (4.53, 6.69), (15.82, 4.62)]
od_d98 = [(1.81, 9.49), (1.81, 11.34), (1.82, 12.85), (1.82, 17.94), (1.89, 19.41), (1.93, 16.83),
          (1.96, 13.65), (1.98, 12.48), (2.0, 9.8), (2.02, 6.1), (7.4, 2.43), (7.68, 2.4), (7.69, 2.71),
          (7.82, 4.44)]
od_d98_mean = [(1.94, 15.87), (2.01, 6.47)]

x_ticks = [0, 5, 10, 15, 20]
xlabel_text = 'UTC hours on 20241001'

# ---------------- figure
fig = plt.figure(figsize=(12.75, 23.75), dpi=300)
L, W, H = 0.0967, 0.6868, 0.1263
bottoms = [0.83214, 0.67326, 0.51551, 0.35832, 0.20056, 0.04168]
axes = [fig.add_axes([L, b, W, H]) for b in bottoms]
gfmt = FuncFormatter(lambda v, p: f'{v:g}')


def style(ax, ylim, yticks, ylabel=None):
    ax.set_xlim(0, 24)
    ax.set_ylim(*ylim)
    ax.set_xticks(x_ticks)
    ax.set_yticks(yticks)
    ax.yaxis.set_major_formatter(gfmt)
    ax.spines['top'].set_visible(False)
    ax.spines['left'].set_color(MBLUE)
    ax.spines['left'].set_linewidth(0.8)
    ax.spines['right'].set_color(LBLUE)
    ax.spines['right'].set_linewidth(0.8)
    ax.spines['bottom'].set_color(DARK)
    ax.spines['bottom'].set_linewidth(1.0)
    ax.tick_params(axis='x', direction='in', length=6, width=0.6, color=DARK,
                   labelcolor=DARK, labelsize=10, pad=8)
    ax.tick_params(axis='y', direction='in', length=6.5, width=0.8, color=MBLUE,
                   labelcolor=MBLUE, labelsize=10, pad=7)
    ax.set_xlabel(xlabel_text, fontsize=11, color=DARK, labelpad=5)
    if ylabel:
        ax.set_ylabel(ylabel, fontsize=11, color=MBLUE)
        ax.yaxis.set_label_coords(-0.047, 0.5)


# panel 1
ax = axes[0]
cmap = matplotlib.colormaps['jet'].resampled(64)
norm = Normalize(-60, 20)
for t0, t1, zb, zt, dbz in refl_boxes:
    ax.bar(t0, zt - zb, width=t1 - t0, bottom=zb, align='edge', color=cmap(norm(dbz)), linewidth=0)
cb = np.array(cloud_base)
ax.plot(cb[:, 0], cb[:, 1], 'o', color='black', ms=3, mec='none')
style(ax, (0, 4), np.arange(0, 4.01, 0.5), 'Altitude, AGL km')

cax = fig.add_axes([0.8081, bottoms[0], 0.0484, H])
cbar = fig.colorbar(ScalarMappable(norm=norm, cmap=cmap), cax=cax)
cbar.set_ticks(np.arange(-60, 21, 10))
cbar.outline.set_linewidth(0.5)
cax.tick_params(direction='in', length=6, width=0.6, color=DARK, labelcolor=DARK, labelsize=10, pad=7)
cax.text(1.85, 0.5, 'ARM KAZR GE Mode\nMerged Reflectivity, dBZ', transform=cax.transAxes,
         rotation=90, ha='center', va='center', multialignment='center', fontsize=9, color=DARK)

# panel 2
ax = axes[1]
d98_levels = [(0, d98_f0), (1, d98_f1), (2, d98_f2), (3, d98_f3), (4, d98_f4), (5, d98_f5)]
zlwp_levels = [(0, zlwp_f0), (1, zlwp_f1), (3, zlwp_f3), (4, zlwp_f4), (5, zlwp_f5),
               (7, zlwp_f7), (8, zlwp_f8), (9, zlwp_f9), (10, zlwp_f10)]
for flag, runs in d98_levels:
    for t0, t1 in runs:
        ax.plot([t0, t1], [flag, flag], color=ORANGE, lw=2.7, marker='o', ms=2.9, mec='none',
                solid_capstyle='round')
for flag, runs in zlwp_levels:
    for t0, t1 in runs:
        ax.plot([t0, t1], [flag + 0.2, flag + 0.2], color=BLUE, lw=2.7, marker='o', ms=2.9, mec='none',
                solid_capstyle='round')
style(ax, (-0.5, 11.5), np.arange(0, 11, 2))
for txt, col, yb in [('DQ Flag', MBLUE, 0.199), ('D98 &', ORANGE, 0.442), ('Z-LWP', BLUE, 0.638)]:
    ax.text(-0.057, yb, txt, transform=ax.transAxes, rotation=90, ha='center', va='bottom',
            color=col, fontsize=11)

# panel 3
ax = axes[2]
lwp_t, lwp_v = [], []
for st, sv in zip(lwp_seg_t, lwp_seg_v):
    lwp_t += st + [nan]
    lwp_v += sv + [nan]
ax.plot(lwp_t, lwp_v, color=BROWN, lw=0.9)
lm = np.array(lwp_marks)
ax.plot(lm[:, 0], lm[:, 1], 'X', color=BROWN, ms=6, mec='none')
style(ax, (-0.1, 3), np.arange(0, 3.01, 0.5), r'log10 Liquid Water Path, log10(g/m$^2$)')
ax.legend([Line2D([], [], color=BROWN, lw=1.6)], ['MWR3C LWP corrected'], loc='upper left',
          bbox_to_anchor=(0.613, 0.974), frameon=False, fontsize=9, handlelength=7.4,
          handletextpad=0.77, borderpad=0, borderaxespad=0)


def scatter_panel(ax, d98, zlwp, d98_mean, zlwp_mean, labels, legend_xy):
    for pts, col in [(zlwp, BLUE), (d98, ORANGE)]:
        a = np.array(pts)
        ax.plot(a[:, 0], a[:, 1], 'o', color=col, ms=2.6, mec='none')
    for pts, col in [(zlwp_mean, BLUE), (d98_mean, ORANGE)]:
        a = np.array(pts)
        ax.plot(a[:, 0], a[:, 1], 'X', color=col, ms=6, mec='none')
    handles = [Line2D([], [], ls='none', marker='X', color=ORANGE, ms=6, mec='none'),
               Line2D([], [], ls='none', marker='X', color=BLUE, ms=6, mec='none')]
    ax.legend(handles, labels, loc='upper left', bbox_to_anchor=legend_xy, frameon=False, fontsize=10,
              handlelength=2, handletextpad=3.0, labelspacing=0.12, borderpad=0, borderaxespad=0)


ax = axes[3]
scatter_panel(ax, re_d98, re_zlwp, re_d98_mean, re_zlwp_mean, ['D98 Re', 'Z-LWP'], (0.829, 0.95))
style(ax, (0, 20), np.arange(0, 21, 2), r'Effective Radius,$\mu$ m')

ax = axes[4]
scatter_panel(ax, nd_d98, nd_zlwp, nd_d98_mean, nd_zlwp_mean, ['D98 Nd', 'Z-LWP Nd'], (0.8184, 0.957))
style(ax, (0, 300), np.arange(0, 301, 50), 'Droplet Concentration, #/cc')

ax = axes[5]
scatter_panel(ax, od_d98, od_zlwp, od_d98_mean, od_zlwp_mean, ['D98 OD', 'Z-LWP Nd'], (0.8184, 0.956))
style(ax, (0, 41.5), np.arange(0, 41, 5), 'Optical Depth')

fig.savefig('out.png', dpi=300, facecolor='white')
